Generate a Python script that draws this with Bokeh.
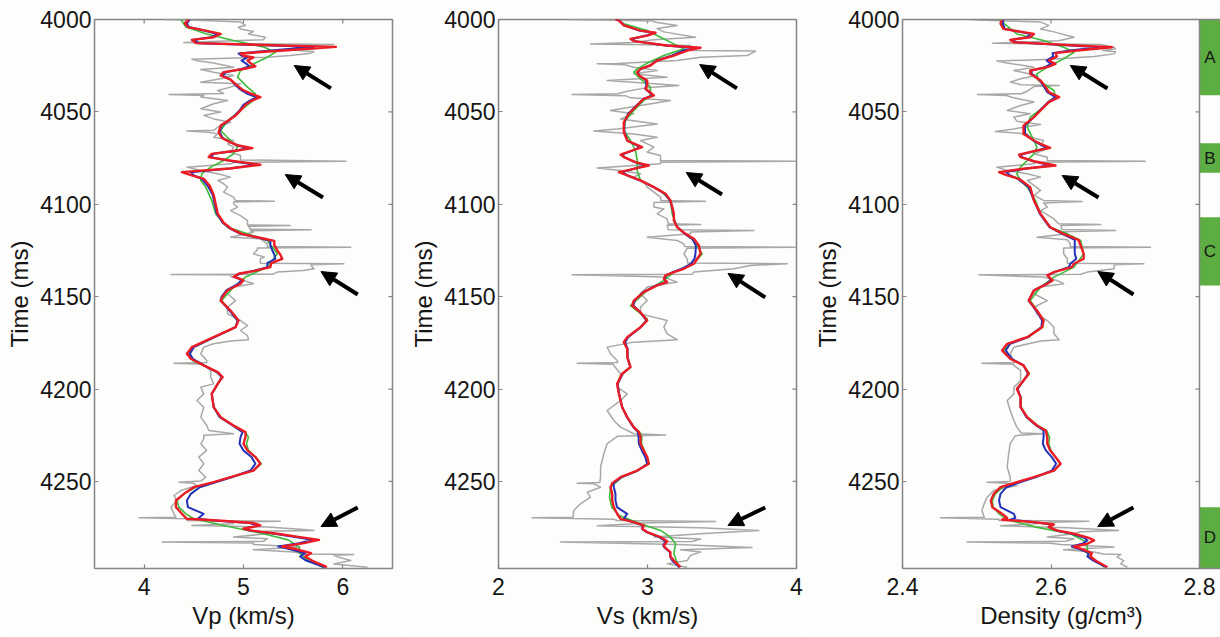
from bokeh.plotting import figure
from bokeh.layouts import row
from bokeh.models import Range1d, FixedTicker, LinearAxis, Arrow, NormalHead, Span
from bokeh.embed import file_html
from bokeh.resources import INLINE
from bokeh.core.properties import value

# ---------------------------------------------------------------- time axis
T_TOP = 4000.0
T_BOTTOM = 4297.1
TIME_TICKS = [4000, 4050, 4100, 4150, 4200, 4250]

# ---------------------------------------------------------------- Vp (km/s)
VP_TICKS = [4, 5, 6]
t_vp_well = [4000.0, 4000.5, 4001.4, 4003.2, 4004.1, 4005.1, 4006.5, 4007.8, 4009.6, 4011.0,
             4012.0, 4012.5, 4013.0, 4013.5, 4014.0, 4015.0, 4016.0, 4016.5, 4017.4, 4018.2,
             4019.5, 4020.5, 4021.5, 4022.5, 4023.5, 4025.8, 4027.0, 4028.5, 4030.3, 4032.1,
             4033.9, 4034.8, 4036.6, 4038.4, 4040.0, 4040.6, 4041.1, 4042.0, 4043.8, 4045.6,
             4048.3, 4050.1, 4051.9, 4053.8, 4055.6, 4058.3, 4060.0, 4060.4, 4061.0, 4061.9,
             4063.7, 4065.5, 4067.3, 4069.1, 4071.8, 4073.6, 4076.0, 4076.7, 4077.4, 4078.1,
             4079.9, 4081.7, 4083.5, 4085.3, 4087.1, 4088.9, 4090.7, 4093.4, 4096.1, 4098.0,
             4098.3, 4098.8, 4099.7, 4101.5, 4103.4, 4106.1, 4108.8, 4111.2, 4111.5, 4111.9,
             4113.5, 4113.8, 4114.3, 4115.1, 4117.8, 4118.7, 4121.4, 4122.9, 4123.2, 4123.6,
             4124.6, 4126.8, 4128.6, 4129.5, 4131.9, 4132.2, 4132.7, 4133.1, 4134.9, 4135.8,
             4136.7, 4137.8, 4138.0, 4138.3, 4139.1, 4141.2, 4143.0, 4144.8, 4148.4, 4152.1,
             4155.7, 4159.3, 4162.9, 4165.6, 4168.3, 4171.0, 4173.3, 4174.0, 4175.5, 4177.3,
             4180.9, 4184.5, 4185.6, 4186.0, 4186.5, 4187.2, 4189.9, 4193.5, 4197.2, 4199.0,
             4202.6, 4206.2, 4209.8, 4215.2, 4219.7, 4222.4, 4224.2, 4225.0, 4226.9, 4229.6,
             4233.2, 4236.8, 4240.4, 4244.1, 4247.7, 4249.8, 4250.4, 4251.0, 4252.2, 4254.9,
             4257.6, 4260.3, 4263.9, 4267.5, 4269.4, 4269.7, 4270.2, 4271.1, 4271.5, 4272.1,
             4272.9, 4273.8, 4274.7, 4276.0, 4276.5, 4277.0, 4278.3, 4280.1, 4281.0, 4282.4,
             4282.8, 4283.3, 4284.1, 4285.5, 4287.0, 4288.2, 4289.2, 4289.5, 4290.0, 4290.9,
             4292.8, 4294.6, 4296.4]
vp_well = [4.20, 4.60, 4.97, 5.02, 4.95, 4.97, 5.10, 5.05, 5.22, 5.20,
           4.60, 4.40, 4.80, 5.91, 5.50, 5.68, 5.71, 5.50, 5.71, 5.68,
           5.47, 5.20, 4.48, 4.55, 4.70, 4.90, 4.57, 4.70, 4.90, 4.77,
           4.57, 4.97, 4.87, 4.74, 4.80, 4.25, 4.60, 4.57, 4.84, 4.70,
           4.57, 4.77, 4.60, 4.70, 4.87, 4.74, 4.70, 4.43, 4.65, 4.74,
           4.70, 4.90, 4.84, 4.90, 4.87, 4.97, 4.97, 6.03, 4.90, 4.87,
           4.43, 4.57, 4.74, 4.87, 4.74, 4.80, 4.84, 4.80, 4.90, 4.92,
           5.31, 4.90, 4.90, 4.94, 4.87, 4.97, 5.04, 5.04, 5.47, 5.05,
           5.07, 5.68, 5.07, 5.10, 4.87, 5.17, 5.24, 5.24, 6.08, 5.14,
           5.14, 5.10, 5.21, 5.17, 5.17, 6.01, 5.68, 5.68, 5.71, 5.60,
           5.34, 5.30, 4.27, 4.87, 4.87, 5.00, 5.10, 4.90, 4.84, 4.92,
           4.84, 4.84, 4.97, 5.04, 4.97, 5.04, 5.05, 4.87, 4.70, 4.60,
           4.57, 4.63, 4.63, 4.30, 4.60, 4.60, 4.67, 4.67, 4.70, 4.57,
           4.60, 4.53, 4.60, 4.57, 4.63, 4.65, 4.90, 4.60, 4.60, 4.57,
           4.63, 4.55, 4.60, 4.55, 4.62, 4.57, 4.35, 4.50, 4.53, 4.37,
           4.30, 4.33, 4.27, 4.30, 4.32, 3.95, 4.43, 4.43, 5.37, 4.90,
           4.90, 4.48, 5.24, 5.60, 5.71, 5.20, 5.24, 4.90, 5.24, 5.20,
           4.18, 5.10, 5.10, 5.57, 5.10, 5.51, 5.60, 6.11, 5.91, 5.95,
           6.08, 5.91, 6.25]

t_vp_lowfreq = [4000.0, 4004.1, 4007.8, 4011.4, 4015.0, 4017.7, 4020.4, 4024.0, 4027.6, 4031.2,
                4036.6, 4040.2, 4043.8, 4049.2, 4054.7, 4060.1, 4065.5, 4069.1, 4072.7, 4076.3,
                4079.9, 4083.5, 4087.1, 4090.7, 4097.9, 4105.2, 4112.4, 4116.0, 4119.6, 4126.8,
                4134.0, 4139.4, 4144.8, 4152.1, 4157.5, 4162.9, 4166.5, 4171.9, 4177.3, 4180.9,
                4184.5, 4190.8, 4193.5, 4197.2, 4202.6, 4209.8, 4215.2, 4219.7, 4223.3, 4226.0,
                4229.6, 4233.2, 4236.8, 4240.4, 4244.1, 4247.7, 4250.4, 4253.1, 4256.7, 4260.3,
                4263.9, 4267.5, 4270.2, 4273.8, 4278.3, 4281.6, 4285.5, 4289.1, 4292.8, 4296.4]
vp_lowfreq = [4.37, 4.42, 4.63, 4.90, 5.21, 5.32, 5.24, 5.10, 4.97, 4.94,
              5.04, 5.12, 5.10, 4.97, 4.84, 4.77, 4.87, 4.94, 4.90, 4.80,
              4.67, 4.58, 4.57, 4.62, 4.68, 4.72, 4.84, 5.04, 5.24, 5.34,
              5.24, 5.02, 4.90, 4.78, 4.86, 4.94, 4.92, 4.71, 4.50, 4.44,
              4.49, 4.74, 4.79, 4.74, 4.68, 4.70, 4.77, 4.90, 5.02, 5.05,
              5.03, 5.05, 5.12, 5.18, 5.10, 4.88, 4.70, 4.52, 4.40, 4.33,
              4.35, 4.42, 4.50, 4.80, 5.20, 5.45, 5.56, 5.57, 5.65, 5.80]

t_vp_inv = [4000.0, 4002.0, 4004.1, 4006.0, 4007.8, 4009.6, 4011.0, 4012.8, 4014.8, 4016.0,
            4018.4, 4019.6, 4020.5, 4022.2, 4024.0, 4025.3, 4026.8, 4028.5, 4030.3, 4032.5,
            4035.0, 4038.0, 4040.2, 4042.0, 4044.0, 4046.2, 4049.2, 4052.0, 4054.3, 4057.4,
            4061.0, 4064.0, 4066.2, 4068.2, 4069.6, 4071.0, 4072.7, 4074.5, 4076.2, 4078.6,
            4080.6, 4082.6, 4084.4, 4086.2, 4090.0, 4095.0, 4100.0, 4105.0, 4110.0, 4113.0,
            4116.0, 4118.5, 4119.8, 4122.0, 4125.0, 4127.2, 4129.5, 4131.8, 4134.0, 4136.2,
            4137.6, 4139.2, 4141.0, 4143.0, 4146.5, 4150.0, 4152.1, 4157.5, 4162.9, 4166.5,
            4171.9, 4177.3, 4180.9, 4183.6, 4187.2, 4190.8, 4193.5, 4197.2, 4202.6, 4209.8,
            4215.2, 4219.7, 4223.3, 4226.0, 4229.6, 4233.2, 4236.8, 4240.4, 4244.1, 4247.7,
            4250.4, 4253.1, 4256.7, 4260.3, 4263.9, 4267.5, 4270.2, 4271.1, 4272.5, 4273.8,
            4275.6, 4276.5, 4278.3, 4280.1, 4281.6, 4283.4, 4285.2, 4286.4, 4288.8, 4290.6,
            4292.8, 4296.4]
vp_inv_blue = [4.46, 4.43, 4.45, 4.60, 4.74, 4.68, 4.50, 4.55, 5.71, 5.45,
               4.95, 4.98, 5.04, 4.98, 5.03, 5.06, 4.98, 4.82, 4.79, 4.87,
               4.91, 4.97, 5.04, 5.13, 5.06, 5.00, 4.96, 4.91, 4.86, 4.78,
               4.76, 4.79, 4.86, 4.94, 5.05, 4.92, 4.70, 4.67, 4.83, 5.12,
               4.86, 4.47, 4.50, 4.58, 4.64, 4.69, 4.71, 4.73, 4.79, 4.86,
               4.97, 5.18, 5.27, 5.27, 5.29, 5.31, 5.32, 5.24, 5.24, 5.09,
               4.96, 4.91, 4.98, 4.95, 4.83, 4.78, 4.77, 4.86, 4.94, 4.92,
               4.71, 4.50, 4.46, 4.49, 4.60, 4.73, 4.78, 4.74, 4.68, 4.70,
               4.76, 4.89, 4.99, 4.97, 4.96, 5.00, 5.08, 5.12, 5.07, 4.88,
               4.72, 4.56, 4.47, 4.43, 4.44, 4.60, 4.54, 4.70, 5.06, 5.14,
               5.00, 5.06, 5.31, 5.52, 5.69, 5.56, 5.35, 5.45, 5.62, 5.57,
               5.63, 5.82]
vp_inv_red = [4.45, 4.41, 4.44, 4.62, 4.77, 4.70, 4.48, 4.52, 5.93, 5.62,
              4.97, 5.00, 5.10, 5.04, 5.08, 5.12, 5.00, 4.80, 4.77, 4.87,
              4.92, 4.99, 5.08, 5.17, 5.08, 5.02, 4.97, 4.92, 4.86, 4.77,
              4.75, 4.78, 4.86, 4.95, 5.09, 4.92, 4.68, 4.65, 4.84, 5.17,
              4.86, 4.38, 4.48, 4.60, 4.66, 4.70, 4.72, 4.74, 4.80, 4.87,
              4.98, 5.20, 5.31, 5.31, 5.34, 5.37, 5.39, 5.28, 5.27, 5.10,
              4.95, 4.90, 5.00, 4.97, 4.84, 4.79, 4.77, 4.87, 4.95, 4.92,
              4.70, 4.48, 4.43, 4.47, 4.60, 4.74, 4.79, 4.74, 4.68, 4.70,
              4.77, 4.90, 5.02, 5.02, 5.00, 5.04, 5.12, 5.17, 5.10, 4.87,
              4.70, 4.50, 4.40, 4.32, 4.32, 4.38, 4.43, 4.74, 5.10, 5.17,
              5.00, 5.07, 5.34, 5.57, 5.76, 5.61, 5.39, 5.51, 5.68, 5.62,
              5.69, 5.84]

# ---------------------------------------------------------------- Vs (km/s)
VS_TICKS = [2, 3, 4]
t_vs_well = [4000.0, 4000.3, 4000.8, 4001.4, 4003.2, 4004.9, 4006.7, 4009.6, 4011.0, 4012.5,
             4013.2, 4013.6, 4014.1, 4015.9, 4016.8, 4017.1, 4018.6, 4019.5, 4020.4, 4022.2,
             4023.8, 4024.0, 4024.5, 4025.8, 4027.6, 4029.4, 4031.2, 4033.0, 4034.0, 4035.7,
             4037.0, 4038.8, 4040.2, 4040.6, 4041.2, 4042.4, 4043.8, 4046.5, 4049.2, 4051.0,
             4053.8, 4056.5, 4059.2, 4060.4, 4061.9, 4063.7, 4065.5, 4069.1, 4071.8, 4073.6,
             4076.3, 4076.7, 4077.3, 4078.1, 4080.3, 4081.7, 4083.5, 4085.3, 4088.0, 4090.7,
             4093.4, 4096.1, 4097.9, 4098.3, 4099.0, 4101.5, 4102.5, 4105.2, 4107.9, 4110.6,
             4111.0, 4111.4, 4113.8, 4114.2, 4115.0, 4116.0, 4117.8, 4119.6, 4121.4, 4122.9,
             4123.2, 4123.8, 4126.8, 4129.5, 4131.8, 4132.2, 4133.1, 4134.9, 4136.7, 4137.9,
             4138.2, 4139.4, 4142.1, 4144.8, 4148.4, 4152.1, 4155.7, 4159.3, 4162.9, 4166.5,
             4170.1, 4173.3, 4174.6, 4177.3, 4180.9, 4184.5, 4185.6, 4186.0, 4186.6, 4187.2,
             4191.7, 4199.0, 4202.6, 4206.2, 4211.6, 4217.0, 4220.6, 4224.2, 4224.8, 4225.5,
             4226.9, 4229.6, 4235.0, 4242.2, 4247.7, 4250.5, 4250.9, 4251.3, 4253.1, 4255.8,
             4258.5, 4262.1, 4265.7, 4269.4, 4269.7, 4270.5, 4271.1, 4271.6, 4272.5, 4272.9,
             4274.0, 4275.1, 4276.5, 4278.3, 4280.1, 4281.2, 4282.5, 4282.8, 4284.1, 4285.7,
             4287.0, 4288.2, 4290.0, 4292.8, 4294.6, 4296.4]
vs_well = [2.461, 2.700, 3.043, 3.043, 3.199, 3.065, 3.110, 3.322, 3.043, 2.900,
           2.617, 3.000, 3.289, 3.289, 3.300, 3.725, 3.691, 3.669, 3.356, 3.199,
           2.800, 2.662, 2.850, 2.908, 3.065, 2.908, 3.132, 2.729, 2.900, 3.210,
           2.987, 2.864, 2.800, 2.494, 2.850, 2.886, 3.154, 2.953, 2.752, 2.908,
           2.819, 3.065, 2.796, 2.640, 2.908, 3.065, 2.953, 3.043, 2.998, 3.087,
           3.087, 3.993, 3.087, 3.087, 2.662, 2.819, 2.953, 2.908, 2.975, 2.998,
           3.043, 3.087, 3.090, 3.389, 3.043, 3.043, 3.110, 3.065, 3.132, 3.140,
           3.356, 3.132, 3.140, 3.714, 3.289, 3.289, 2.998, 3.199, 3.244, 3.250,
           3.993, 3.266, 3.244, 3.266, 3.270, 3.937, 3.691, 3.579, 3.311, 3.300,
           2.494, 3.110, 3.199, 2.998, 2.953, 2.998, 2.953, 2.953, 3.132, 3.110,
           3.132, 3.199, 2.908, 2.729, 2.752, 2.796, 2.800, 2.528, 2.770, 2.774,
           2.819, 2.796, 2.864, 2.819, 2.729, 2.774, 2.819, 2.908, 3.121, 2.800,
           2.774, 2.729, 2.707, 2.685, 2.685, 2.680, 2.528, 2.640, 2.685, 2.595,
           2.617, 2.550, 2.505, 2.500, 2.226, 2.774, 2.796, 3.456, 2.950, 2.908,
           2.662, 3.356, 3.747, 3.356, 3.043, 3.356, 3.300, 2.416, 3.199, 3.702,
           3.221, 3.356, 3.289, 3.266, 3.132, 3.266]

t_vs_lowfreq = [4000.0, 4002.3, 4006.0, 4009.6, 4013.2, 4015.9, 4019.5, 4023.1, 4026.7, 4028.5,
                4032.1, 4036.6, 4041.1, 4043.8, 4049.2, 4054.7, 4060.1, 4065.5, 4070.9, 4076.3,
                4081.7, 4087.1, 4092.5, 4097.9, 4105.2, 4112.4, 4116.0, 4119.6, 4126.8, 4132.2,
                4136.7, 4141.2, 4146.6, 4154.8, 4162.0, 4166.5, 4171.9, 4174.6, 4178.2, 4182.7,
                4188.1, 4191.7, 4197.2, 4202.6, 4209.8, 4215.2, 4220.6, 4223.3, 4226.0, 4229.6,
                4233.2, 4236.8, 4240.4, 4244.1, 4247.7, 4250.4, 4253.1, 4258.5, 4263.9, 4268.4,
                4272.9, 4276.5, 4280.1, 4283.7, 4289.1, 4296.4]
vs_lowfreq = [2.796, 2.841, 2.998, 3.087, 3.177, 3.244, 3.110, 3.009, 2.931, 2.908,
              2.953, 3.020, 3.020, 2.975, 2.908, 2.852, 2.841, 2.886, 2.919, 2.931,
              2.931, 2.953, 3.087, 3.154, 3.166, 3.199, 3.255, 3.311, 3.367, 3.311,
              3.177, 3.110, 2.998, 2.886, 2.998, 2.955, 2.866, 2.843, 2.864, 2.866,
              2.886, 2.832, 2.798, 2.808, 2.830, 2.864, 2.910, 2.948, 2.962, 2.960,
              2.978, 2.998, 3.009, 2.935, 2.830, 2.790, 2.752, 2.745, 2.760, 2.810,
              2.953, 3.087, 3.154, 3.188, 3.177, 3.210]

t_vs_inv = [4000.0, 4000.5, 4003.2, 4006.0, 4007.2, 4008.7, 4010.5, 4011.7, 4014.1, 4015.3,
            4016.8, 4019.5, 4022.2, 4024.9, 4026.7, 4028.5, 4030.3, 4033.0, 4035.7, 4037.5,
            4041.1, 4042.9, 4047.4, 4051.0, 4055.6, 4061.0, 4065.5, 4069.1, 4071.2, 4073.1,
            4074.5, 4077.2, 4079.0, 4080.8, 4082.6, 4084.4, 4087.1, 4090.7, 4094.3, 4097.9,
            4101.5, 4105.2, 4108.8, 4112.4, 4116.0, 4118.7, 4122.3, 4126.8, 4129.5, 4132.2,
            4134.9, 4136.7, 4138.5, 4140.3, 4142.1, 4143.9, 4147.5, 4152.1, 4154.8, 4158.4,
            4162.9, 4166.5, 4171.9, 4174.6, 4178.2, 4182.7, 4188.1, 4191.7, 4197.2, 4202.6,
            4209.8, 4215.2, 4220.6, 4223.3, 4226.0, 4229.6, 4233.2, 4236.8, 4240.4, 4244.1,
            4247.7, 4250.9, 4253.1, 4256.7, 4260.3, 4263.9, 4267.5, 4270.2, 4272.0, 4273.8,
            4275.6, 4277.4, 4280.1, 4282.3, 4284.6, 4285.9, 4288.2, 4290.6, 4292.8, 4296.4]
vs_inv_blue = [2.790, 2.810, 2.845, 2.945, 3.040, 2.990, 2.895, 2.915, 3.120, 3.300,
               3.240, 3.165, 3.060, 3.015, 2.955, 2.935, 2.945, 2.990, 2.992, 2.985,
               3.035, 2.975, 2.915, 2.870, 2.845, 2.845, 2.866, 2.950, 2.890, 2.830,
               2.845, 2.915, 2.990, 2.910, 2.830, 2.866, 2.950, 3.040, 3.115, 3.150,
               3.165, 3.175, 3.180, 3.200, 3.250, 3.300, 3.325, 3.322, 3.315, 3.290,
               3.230, 3.170, 3.125, 3.115, 3.120, 3.060, 2.970, 2.915, 2.905, 2.950,
               2.992, 2.955, 2.870, 2.850, 2.866, 2.866, 2.884, 2.834, 2.800, 2.810,
               2.830, 2.862, 2.905, 2.935, 2.940, 2.942, 2.962, 2.985, 2.998, 2.935,
               2.825, 2.772, 2.774, 2.785, 2.785, 2.795, 2.864, 2.841, 2.900, 2.970,
               2.962, 2.994, 3.078, 3.121, 3.105, 3.115, 3.150, 3.152, 3.166, 3.215]
vs_inv_red = [2.785, 2.808, 2.841, 2.953, 3.054, 2.998, 2.886, 2.908, 3.132, 3.356,
              3.266, 3.177, 3.065, 3.020, 2.953, 2.931, 2.942, 2.998, 2.998, 2.987,
              3.043, 2.975, 2.919, 2.875, 2.841, 2.841, 2.864, 2.964, 2.886, 2.819,
              2.841, 2.919, 3.009, 2.908, 2.808, 2.864, 2.953, 3.043, 3.121, 3.154,
              3.166, 3.177, 3.177, 3.199, 3.255, 3.311, 3.345, 3.356, 3.333, 3.311,
              3.244, 3.177, 3.121, 3.110, 3.132, 3.065, 2.975, 2.908, 2.897, 2.953,
              2.998, 2.953, 2.864, 2.841, 2.864, 2.864, 2.886, 2.830, 2.796, 2.808,
              2.830, 2.864, 2.908, 2.942, 2.953, 2.953, 2.975, 2.998, 3.009, 2.931,
              2.819, 2.763, 2.752, 2.763, 2.763, 2.774, 2.796, 2.819, 2.908, 2.975,
              2.964, 2.998, 3.087, 3.132, 3.110, 3.121, 3.154, 3.154, 3.177, 3.221]

# ---------------------------------------------------------------- density (g/cm3)
RHO_TICKS = [2.4, 2.6, 2.8]
t_rho_well = [4000.0, 4000.5, 4001.4, 4003.2, 4005.1, 4006.7, 4009.6, 4011.5, 4012.3, 4012.8,
              4013.2, 4013.5, 4015.0, 4015.9, 4016.8, 4017.5, 4018.6, 4020.0, 4021.5, 4022.5,
              4023.5, 4025.8, 4027.6, 4030.3, 4032.1, 4033.9, 4035.3, 4035.7, 4036.3, 4038.8,
              4040.2, 4040.6, 4041.1, 4042.4, 4044.7, 4046.5, 4049.2, 4051.0, 4052.8, 4055.0,
              4056.8, 4059.2, 4060.6, 4061.9, 4063.7, 4065.5, 4068.2, 4070.0, 4072.7, 4074.5,
              4076.3, 4076.7, 4077.2, 4078.1, 4079.9, 4081.7, 4083.5, 4085.3, 4087.1, 4089.8,
              4092.5, 4095.2, 4097.9, 4098.5, 4099.3, 4101.5, 4103.4, 4107.9, 4110.5, 4111.0,
              4111.5, 4113.6, 4114.2, 4114.8, 4116.0, 4117.8, 4119.2, 4121.4, 4122.9, 4123.2,
              4123.6, 4126.8, 4129.5, 4131.9, 4132.2, 4132.7, 4134.9, 4136.7, 4137.9, 4138.2,
              4139.4, 4141.2, 4143.0, 4144.8, 4148.4, 4152.1, 4155.7, 4159.3, 4162.9, 4166.5,
              4170.1, 4173.3, 4174.0, 4177.3, 4180.9, 4184.5, 4185.6, 4186.0, 4186.5, 4187.2,
              4189.9, 4195.4, 4199.0, 4202.6, 4206.2, 4211.6, 4217.0, 4220.6, 4223.8, 4224.2,
              4225.2, 4229.6, 4235.0, 4242.2, 4247.7, 4250.0, 4250.4, 4251.0, 4252.2, 4254.9,
              4258.5, 4262.1, 4265.7, 4269.4, 4269.7, 4270.5, 4271.1, 4271.5, 4272.1, 4272.9,
              4274.0, 4275.1, 4276.5, 4277.2, 4278.3, 4280.1, 4281.0, 4282.4, 4282.8, 4283.4,
              4284.1, 4285.5, 4287.0, 4288.2, 4289.2, 4289.5, 4290.9, 4292.8, 4294.6, 4296.4]
rho_well = [2.490, 2.520, 2.586, 2.597, 2.586, 2.604, 2.631, 2.610, 2.560, 2.521,
            2.600, 2.667, 2.685, 2.687, 2.670, 2.687, 2.685, 2.658, 2.600, 2.527,
            2.541, 2.577, 2.550, 2.581, 2.559, 2.545, 2.560, 2.611, 2.577, 2.568,
            2.560, 2.501, 2.540, 2.550, 2.577, 2.559, 2.541, 2.572, 2.550, 2.554,
            2.586, 2.550, 2.525, 2.568, 2.572, 2.590, 2.586, 2.595, 2.577, 2.595,
            2.595, 2.727, 2.580, 2.577, 2.527, 2.541, 2.568, 2.586, 2.568, 2.577,
            2.586, 2.577, 2.590, 2.642, 2.590, 2.595, 2.586, 2.604, 2.610, 2.667,
            2.613, 2.615, 2.687, 2.617, 2.622, 2.581, 2.622, 2.626, 2.626, 2.734,
            2.617, 2.617, 2.622, 2.622, 2.725, 2.685, 2.685, 2.649, 2.640, 2.503,
            2.590, 2.608, 2.617, 2.586, 2.577, 2.595, 2.577, 2.581, 2.595, 2.604,
            2.604, 2.611, 2.586, 2.550, 2.545, 2.550, 2.550, 2.507, 2.550, 2.550,
            2.559, 2.559, 2.550, 2.550, 2.541, 2.545, 2.550, 2.554, 2.560, 2.590,
            2.552, 2.545, 2.543, 2.541, 2.545, 2.545, 2.514, 2.540, 2.554, 2.523,
            2.514, 2.510, 2.507, 2.510, 2.451, 2.530, 2.530, 2.651, 2.600, 2.577,
            2.532, 2.622, 2.691, 2.640, 2.631, 2.595, 2.631, 2.620, 2.487, 2.600,
            2.613, 2.685, 2.617, 2.658, 2.670, 2.694, 2.689, 2.698, 2.694, 2.703]

t_rho_lowfreq = [4000.0, 4007.8, 4011.4, 4015.0, 4017.7, 4021.3, 4025.8, 4029.4, 4033.0, 4038.4,
                 4042.0, 4047.4, 4052.8, 4058.3, 4065.5, 4069.1, 4072.7, 4076.3, 4079.9, 4083.5,
                 4087.1, 4090.7, 4097.9, 4105.2, 4112.4, 4116.0, 4119.6, 4126.8, 4134.0, 4139.4,
                 4144.8, 4152.1, 4157.5, 4162.9, 4166.5, 4171.9, 4175.5, 4179.1, 4183.6, 4187.2,
                 4191.7, 4195.4, 4199.9, 4204.4, 4209.8, 4215.2, 4219.7, 4222.4, 4226.0, 4229.6,
                 4233.2, 4236.8, 4240.4, 4244.1, 4247.7, 4250.4, 4253.1, 4256.7, 4260.3, 4263.9,
                 4267.5, 4270.7, 4274.7, 4278.3, 4281.9, 4285.5, 4289.1, 4292.8, 4296.4]
rho_lowfreq = [2.530, 2.554, 2.590, 2.617, 2.631, 2.617, 2.595, 2.581, 2.583, 2.604,
               2.606, 2.590, 2.572, 2.568, 2.577, 2.581, 2.577, 2.568, 2.559, 2.554,
               2.559, 2.568, 2.579, 2.586, 2.599, 2.622, 2.640, 2.644, 2.631, 2.604,
               2.586, 2.572, 2.581, 2.590, 2.589, 2.569, 2.543, 2.536, 2.546, 2.563,
               2.571, 2.563, 2.555, 2.559, 2.560, 2.568, 2.582, 2.594, 2.598, 2.597,
               2.600, 2.606, 2.612, 2.604, 2.578, 2.556, 2.535, 2.525, 2.521, 2.522,
               2.530, 2.541, 2.580, 2.626, 2.644, 2.649, 2.649, 2.660, 2.672]

t_rho_inv = [4000.0, 4002.3, 4005.1, 4007.8, 4009.6, 4011.0, 4012.3, 4015.0, 4016.8, 4018.2,
             4020.0, 4022.2, 4024.0, 4025.8, 4027.6, 4029.4, 4033.0, 4036.6, 4039.3, 4042.0,
             4044.7, 4049.2, 4052.8, 4057.4, 4061.9, 4065.5, 4067.3, 4069.4, 4071.2, 4073.1,
             4074.5, 4076.7, 4079.0, 4080.8, 4082.6, 4084.4, 4086.2, 4090.7, 4097.9, 4105.2,
             4112.4, 4116.0, 4119.2, 4122.3, 4126.8, 4129.5, 4132.2, 4134.0, 4136.7, 4138.5,
             4141.2, 4143.0, 4146.6, 4152.1, 4157.5, 4162.9, 4166.5, 4171.9, 4175.5, 4179.1,
             4183.6, 4187.2, 4191.7, 4195.4, 4199.9, 4204.4, 4209.8, 4215.2, 4219.7, 4222.4,
             4226.0, 4229.6, 4233.2, 4236.8, 4240.4, 4244.1, 4247.7, 4250.4, 4253.1, 4256.7,
             4260.3, 4263.9, 4267.5, 4269.7, 4270.7, 4272.0, 4273.3, 4274.7, 4276.5, 4278.3,
             4280.5, 4281.9, 4283.7, 4285.2, 4286.4, 4288.8, 4290.6, 4292.8, 4296.4]
rho_inv_blue = [2.536, 2.535, 2.538, 2.572, 2.568, 2.548, 2.553, 2.665, 2.625, 2.602,
                2.603, 2.594, 2.600, 2.592, 2.574, 2.574, 2.585, 2.591, 2.595, 2.606,
                2.596, 2.585, 2.577, 2.565, 2.565, 2.576, 2.584, 2.595, 2.578, 2.560,
                2.561, 2.576, 2.600, 2.565, 2.540, 2.545, 2.555, 2.570, 2.577, 2.585,
                2.598, 2.615, 2.632, 2.632, 2.632, 2.634, 2.626, 2.624, 2.604, 2.596,
                2.600, 2.594, 2.577, 2.570, 2.580, 2.588, 2.587, 2.569, 2.545, 2.539,
                2.547, 2.563, 2.569, 2.563, 2.555, 2.559, 2.559, 2.567, 2.580, 2.590,
                2.590, 2.589, 2.593, 2.601, 2.607, 2.601, 2.579, 2.558, 2.540, 2.532,
                2.530, 2.532, 2.550, 2.552, 2.545, 2.575, 2.600, 2.597, 2.607, 2.628,
                2.645, 2.649, 2.642, 2.628, 2.637, 2.651, 2.649, 2.657, 2.674]
rho_inv_red = [2.534, 2.532, 2.536, 2.577, 2.572, 2.545, 2.550, 2.682, 2.635, 2.606,
               2.608, 2.597, 2.606, 2.595, 2.572, 2.572, 2.586, 2.593, 2.597, 2.611,
               2.597, 2.586, 2.577, 2.563, 2.563, 2.577, 2.586, 2.599, 2.577, 2.557,
               2.559, 2.577, 2.606, 2.563, 2.530, 2.541, 2.557, 2.572, 2.577, 2.586,
               2.599, 2.617, 2.637, 2.640, 2.644, 2.644, 2.631, 2.628, 2.604, 2.595,
               2.602, 2.595, 2.577, 2.570, 2.581, 2.590, 2.588, 2.568, 2.541, 2.534,
               2.545, 2.563, 2.570, 2.563, 2.554, 2.559, 2.559, 2.568, 2.581, 2.593,
               2.595, 2.595, 2.599, 2.606, 2.613, 2.604, 2.577, 2.554, 2.532, 2.523,
               2.519, 2.521, 2.534, 2.541, 2.534, 2.577, 2.604, 2.597, 2.608, 2.631,
               2.651, 2.658, 2.649, 2.631, 2.640, 2.655, 2.653, 2.660, 2.676]

# ---------------------------------------------------------------- arrows (tail -> head)
vp_arrow_tail = [5.88, 5.80, 6.15, 6.15]
vp_arrow_head = [5.51, 5.42, 5.78, 5.78]
vp_arrow_t_tail = [4037.3, 4096.3, 4148.8, 4264.1]
vp_arrow_t_head = [4024.9, 4083.9, 4136.4, 4274.4]
vs_arrow_tail = [3.60, 3.50, 3.79, 3.79]
vs_arrow_head = [3.35, 3.26, 3.54, 3.54]
vs_arrow_t_tail = [4037.3, 4094.7, 4150.4, 4264.1]
vs_arrow_t_head = [4024.4, 4082.8, 4137.4, 4273.8]
rho_arrow_tail = [2.676, 2.664, 2.711, 2.711]
rho_arrow_head = [2.626, 2.615, 2.663, 2.663]
rho_arrow_t_tail = [4037.3, 4096.3, 4148.8, 4264.1]
rho_arrow_t_head = [4024.9, 4084.4, 4136.4, 4274.4]

# ---------------------------------------------------------------- marked zones
zone_names = ["A", "B", "C", "D"]
zone_top = [4000, 4067, 4107, 4264]
zone_bottom = [4041, 4083, 4144, 4297.1]

# ---------------------------------------------------------------- styling
H = 637
BG = "#fdfdfb"
FRAME = "#858585"
TXT = "#161616"
C_WELL = "#a8a8a8"
C_LOW = "#3dbb3a"
C_BLUE = "#2232b8"
C_RED = "#ec1c24"
C_ZONE = "#5dae42"
FONT = "Liberation Sans"
TICK_FONT = "23px"
LABEL_FONT = "24px"
FRAME_TOP = 19
FRAME_H = 549
TICK_PX = 4
STRIP_PX = 21  # width of the zone strip right of the density track


def style_axis(ax, ticks):
    ax.ticker = FixedTicker(ticks=ticks)
    ax.axis_line_color = None
    ax.major_tick_in = TICK_PX
    ax.major_tick_out = 0
    ax.major_tick_line_color = FRAME
    ax.major_tick_line_width = 1.2
    ax.minor_tick_line_color = None
    ax.major_label_text_font = FONT
    ax.major_label_text_color = TXT
    ax.major_label_text_font_size = TICK_FONT
    ax.axis_label_text_font = FONT
    ax.axis_label_text_font_size = LABEL_FONT
    ax.axis_label_text_font_style = "normal"
    ax.axis_label_text_color = TXT


def make_track(width, left, right, x_lo, x_hi, x_end, xticks, xlabel, track_px):
    p = figure(width=width, height=H, x_range=Range1d(x_lo, x_end),
               y_range=Range1d(T_BOTTOM, T_TOP),
               output_backend="svg", toolbar_location=None,
               min_border_left=left, min_border_right=right,
               min_border_top=FRAME_TOP, min_border_bottom=H - FRAME_TOP - FRAME_H,
               background_fill_color=BG, border_fill_color=BG,
               outline_line_color=FRAME, outline_line_width=1.5,
               x_axis_label=xlabel, y_axis_label="Time (ms)")
    p.xgrid.visible = False
    p.ygrid.visible = False
    style_axis(p.xaxis[0], xticks)
    p.xaxis[0].major_label_standoff = 9
    p.xaxis[0].axis_label_standoff = 4
    style_axis(p.yaxis[0], TIME_TICKS)
    p.yaxis[0].major_label_standoff = 3
    p.yaxis[0].axis_label_standoff = 4
    # inward ticks along the top and right edges of the track
    dx = TICK_PX * (x_hi - x_lo) / track_px
    dt = TICK_PX * (T_BOTTOM - T_TOP) / FRAME_H
    p.segment(x0=xticks, x1=xticks, y0=[T_TOP] * len(xticks), y1=[T_TOP + dt] * len(xticks),
              line_color=FRAME, line_width=1.2)
    p.segment(x0=[x_hi - dx] * len(TIME_TICKS), x1=[x_hi] * len(TIME_TICKS),
              y0=TIME_TICKS, y1=TIME_TICKS, line_color=FRAME, line_width=1.2)
    return p


def draw_curves(p, tw, w, tl, lo, ti, blue, red):
    p.line(w, tw, line_color=C_WELL, line_width=1.5, line_join="round")
    p.line(lo, tl, line_color=C_LOW, line_width=1.6, line_join="round")
    p.line(blue, ti, line_color=C_BLUE, line_width=2.0, line_join="round")
    p.line(red, ti, line_color=C_RED, line_width=2.4, line_join="round")


def draw_arrows(p, xt, tt, xh, th):
    for x0, y0, x1, y1 in zip(xt, tt, xh, th):
        p.add_layout(Arrow(end=NormalHead(size=15, fill_color="black", line_color="black"),
                           x_start=x0, y_start=y0, x_end=x1, y_end=y1,
                           line_color="black", line_width=4))


# Vp track
p1 = make_track(400, 94, 8, 3.5, 6.5, 6.5, VP_TICKS, "Vp (km/s)", 298)
draw_curves(p1, t_vp_well, vp_well, t_vp_lowfreq, vp_lowfreq, t_vp_inv, vp_inv_blue, vp_inv_red)
draw_arrows(p1, vp_arrow_tail, vp_arrow_t_tail, vp_arrow_head, vp_arrow_t_head)

# Vs track
p2 = make_track(404, 98, 8, 2.0, 4.0, 4.0, VS_TICKS, "Vs (km/s)", 298)
draw_curves(p2, t_vs_well, vs_well, t_vs_lowfreq, vs_lowfreq, t_vs_inv, vs_inv_blue, vs_inv_red)
draw_arrows(p2, vs_arrow_tail, vs_arrow_t_tail, vs_arrow_head, vs_arrow_t_head)

# Density track; its frame also holds the zone strip on the right
RHO_LO, RHO_HI = 2.4, 2.8
TRACK_PX = 297
strip_end = RHO_HI + STRIP_PX * (RHO_HI - RHO_LO) / TRACK_PX
p3 = make_track(416, 98, 0, RHO_LO, RHO_HI, strip_end, RHO_TICKS, "Density (g/cm³)", TRACK_PX)
p3.outline_line_color = None
p3.xaxis[0].axis_line_color = FRAME
p3.xaxis[0].axis_line_width = 1.5
p3.yaxis[0].axis_line_color = FRAME
p3.yaxis[0].axis_line_width = 1.5
top_line = LinearAxis(ticker=FixedTicker(ticks=[]), axis_line_color=FRAME, axis_line_width=1.5,
                      major_tick_line_color=None, minor_tick_line_color=None)
p3.add_layout(top_line, "above")
p3.add_layout(Span(location=RHO_HI, dimension="height", line_color=FRAME, line_width=1.5))
draw_curves(p3, t_rho_well, rho_well, t_rho_lowfreq, rho_lowfreq, t_rho_inv, rho_inv_blue, rho_inv_red)
draw_arrows(p3, rho_arrow_tail, rho_arrow_t_tail, rho_arrow_head, rho_arrow_t_head)

p3.quad(left=[RHO_HI] * len(zone_names), right=[strip_end] * len(zone_names),
        top=zone_top, bottom=zone_bottom, fill_color=C_ZONE, line_color=None)
zone_mid = [(a + b) / 2 for a, b in zip(zone_top, zone_bottom)]
p3.text(x=[(RHO_HI + strip_end) / 2] * len(zone_names), y=zone_mid, text=zone_names,
        text_align="center", text_baseline="middle", text_font=value(FONT),
        text_font_size="17px", text_color=TXT)

layout = row(p1, p2, p3, spacing=0)
open("out.html", "w").write(file_html(layout, INLINE))
